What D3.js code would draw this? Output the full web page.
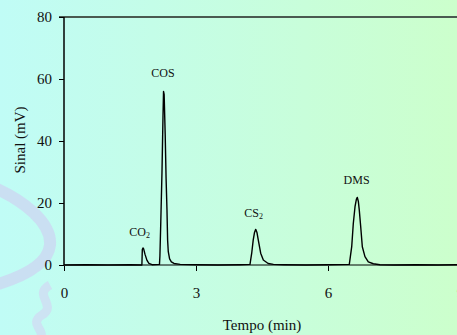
<!DOCTYPE html>
<meta charset="utf-8">
<title>cromatograma</title>
<style>
body { margin: 0; }
svg { display: block; font-family: "Liberation Serif", "Times New Roman", serif; }
.tick text { font-size: 15px; fill: #111; font-family: "Liberation Serif", "Times New Roman", serif; }
</style>
<svg width="457" height="335"></svg>
<script src="https://cdn.jsdelivr.net/npm/d3@7"></script>
<script>

// trace (time in min, signal in mV)
var traceTime = [0, 0.5, 1.0, 1.5, 1.77, 1.78, 1.795, 1.81, 1.84, 1.886, 1.93, 2.0,
  2.17, 2.18, 2.20, 2.227, 2.25, 2.262, 2.276, 2.30, 2.32, 2.34, 2.355, 2.37, 2.40, 2.44, 2.5, 2.64,
  3.0, 3.5, 4.0,
  4.227, 4.266, 4.30, 4.33, 4.357, 4.385, 4.416, 4.47, 4.53, 4.64, 4.76,
  5.0, 5.5, 6.0,
  6.484, 6.539, 6.575, 6.614, 6.645, 6.666, 6.69, 6.711, 6.743, 6.78, 6.84, 6.916, 7.03, 7.18,
  7.5, 8.0, 8.5, 9.0, 9.3];
var traceSignal = [0, 0.1, 0, 0.1, 0, 5.0, 5.5, 5.2, 3.5, 1.5, 0.5, 0.1,
  0.2, 3.0, 14, 30, 48, 56, 55, 42, 28, 18, 8, 4.3, 2.0, 1.0, 0.5, 0.2,
  0.1, 0, 0.1,
  0.2, 3.8, 8.0, 10.5, 11.5, 10.5, 8.0, 3.8, 1.6, 0.5, 0.2,
  0.1, 0, 0.1,
  0.2, 5.9, 13.4, 18.8, 21.2, 21.8, 20.5, 17.7, 12.4, 5.9, 2.7, 1.0, 0.4, 0.1,
  0, 0.1, 0, 0.1, 0];

var peakNames = ["CO", "COS", "CS", "DMS"];
var peakSub = ["2", "", "2", ""];
var labelTime = [1.72, 2.25, 4.31, 6.65];
var labelSignal = [9.3, 60.6, 15.5, 26];

var xTicks = [0, 3, 6, 9];
var yTicks = [0, 20, 40, 60, 80];

var svg = d3.select("svg"),
    width = +svg.attr("width"),
    height = +svg.attr("height");

// background gradient
var defs = svg.append("defs");
var grad = defs.append("linearGradient").attr("id", "bg")
    .attr("x1", 0).attr("x2", 1).attr("y1", 0).attr("y2", 0);
grad.append("stop").attr("offset", "0%").attr("stop-color", "#c0fcf6");
grad.append("stop").attr("offset", "100%").attr("stop-color", "#ccffcc");
svg.append("rect").attr("width", width).attr("height", height).attr("fill", "url(#bg)");

// faint watermark ribbon on the left
svg.append("path")
    .attr("d", "M-5,188 C22,200 52,222 50,245 C48,265 22,277 -5,285")
    .attr("fill", "none").attr("stroke", "#cbdcf2").attr("stroke-width", 12).attr("opacity", 0.9);
svg.append("path")
    .attr("d", "M50,285 C32,295 58,305 42,315 C26,325 52,332 36,342")
    .attr("fill", "none").attr("stroke", "#cfdcf2").attr("stroke-width", 9).attr("opacity", 0.8);

var x = d3.scaleLinear().domain([0, 9]).range([64, 460]);
var y = d3.scaleLinear().domain([0, 80]).range([265, 17]);

// top frame line
svg.append("line")
    .attr("x1", x(0) - 5).attr("x2", width)
    .attr("y1", y(80)).attr("y2", y(80))
    .attr("stroke", "#4a5a50").attr("stroke-width", 2);

var yAxis = svg.append("g")
    .attr("transform", "translate(" + x(0) + ",0)")
    .call(d3.axisLeft(y).tickValues(yTicks).tickSize(5).tickPadding(7));
yAxis.attr("font-family", null).attr("font-size", null);
yAxis.select(".domain").attr("stroke", "#000").attr("stroke-width", 1.5).attr("d", "M0," + y(80) + "V" + y(0));

var xAxis = svg.append("g")
    .attr("transform", "translate(0," + y(0) + ")")
    .call(d3.axisBottom(x).tickValues(xTicks).tickSize(6).tickPadding(16));
xAxis.attr("font-family", null).attr("font-size", null);
xAxis.select(".domain").attr("stroke", "#000").attr("d", "M" + x(0) + ",0H" + width);
xAxis.selectAll(".tick line").attr("y1", 1);

// trace
var line = d3.line()
    .x(function(d, i) { return x(traceTime[i]); })
    .y(function(d) { return y(d); });

svg.append("path")
    .datum(traceSignal)
    .attr("fill", "none")
    .attr("stroke", "#000")
    .attr("stroke-width", 1.4)
    .attr("stroke-linejoin", "round")
    .attr("d", line);

// peak labels
var lab = svg.selectAll(".peak")
    .data(peakNames)
  .enter().append("text")
    .attr("class", "peak")
    .attr("x", function(d, i) { return x(labelTime[i]); })
    .attr("y", function(d, i) { return y(labelSignal[i]); })
    .attr("text-anchor", "middle")
    .style("font-size", "12px")
    .attr("fill", "#111")
    .text(function(d) { return d; });
lab.append("tspan")
    .attr("dy", 2)
    .style("font-size", "8px")
    .text(function(d, i) { return peakSub[i]; });

// axis titles
svg.append("text")
    .attr("x", 262).attr("y", 330)
    .attr("text-anchor", "middle")
    .style("font-size", "15px")
    .attr("fill", "#111")
    .text("Tempo (min)");

svg.append("text")
    .attr("transform", "translate(25,140) rotate(-90)")
    .attr("text-anchor", "middle")
    .style("font-size", "15px")
    .attr("fill", "#111")
    .text("Sinal (mV)");

</script>
